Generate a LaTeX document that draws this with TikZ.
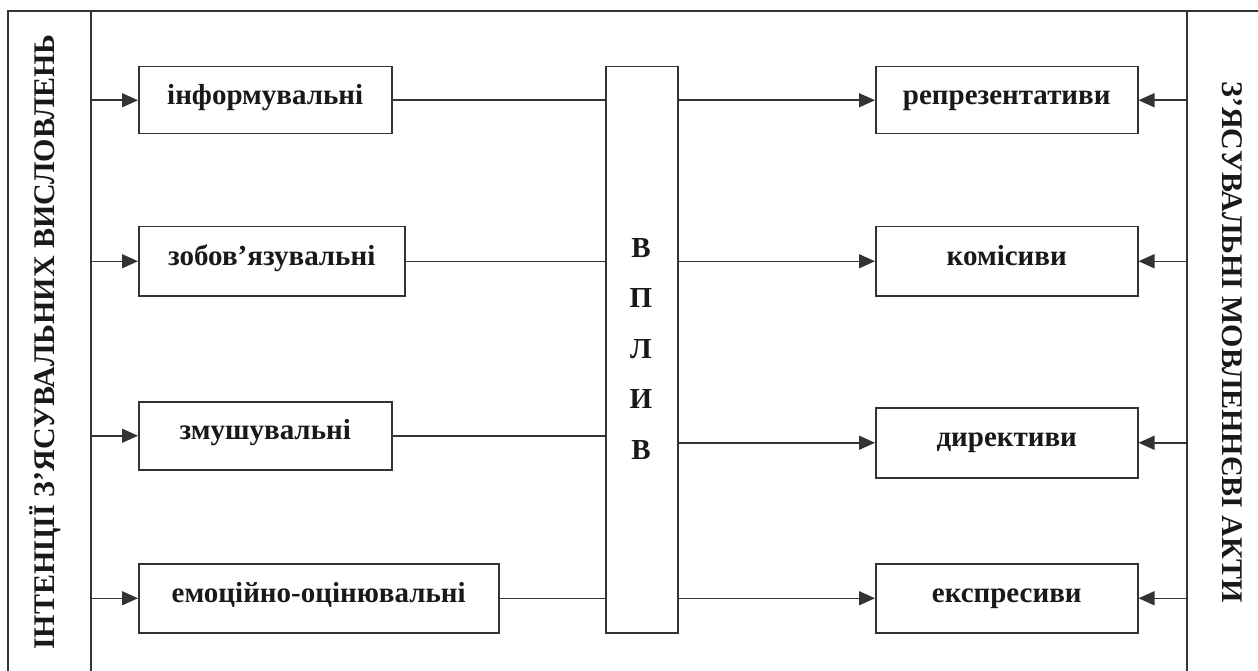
\documentclass[tikz,border=0pt]{standalone}
\usepackage{fontspec}
\setmainfont{Liberation Serif}
\usetikzlibrary{arrows.meta}
\begin{document}
\begin{tikzpicture}[x=1pt,y=-1pt,
  line/.style={draw=black!80, line width=1.5pt},
  tip/.style={-{Triangle[length=16pt,width=14pt]}},
  arr/.style={line, tip},
  box/.style={line, fill=white, anchor=north west, inner sep=0pt,
    text height=14pt, text depth=6pt,
    font=\fontsize{29}{32}\selectfont\bfseries, text=black!90},
  side/.style={font=\bfseries, text=black!90, inner sep=0pt}
]
\useasboundingbox (0,0) rectangle (1258,671);

% outer frame and the two side columns
\draw[line] (8,671) -- (8,11) -- (1258,11);
\draw[line] (91,11) -- (91,671);
\draw[line] (1187,11) -- (1187,671);
\coordinate (lt) at (91,11);
\coordinate (rt) at (1187,11);

\node[side, font=\fontsize{30}{34}\selectfont\bfseries, rotate=90] (intent) at (45,342) {ІНТЕНЦІЇ З’ЯСУВАЛЬНИХ ВИСЛОВЛЕНЬ};
\node[side, font=\fontsize{30}{34}\selectfont\bfseries, rotate=-90] (acts) at (1232,342) {З’ЯСУВАЛЬНІ МОВЛЕННЄВІ АКТИ};

% intention boxes
\node[box, minimum width=253pt, minimum height=67pt] (l1) at (138,66) {інформувальні};
\node[box, minimum width=266pt, minimum height=69pt] (l2) at (138,226) {зобов’язувальні};
\node[box, minimum width=253pt, minimum height=68pt] (l3) at (138,401) {змушувальні};
\node[box, minimum width=360pt, minimum height=69pt] (l4) at (138,563) {емоційно-оцінювальні};

% central influence column
\node[box, text height=, text depth=, minimum width=72pt, minimum height=566pt] (c) at (605,66) {};
\node[font=\fontsize{29}{50.5}\selectfont\bfseries, text=black!90, align=center, inner sep=0pt]
  (cl) at (641,349) {В\\П\\Л\\И\\В};

% speech act boxes
\node[box, minimum width=262pt, minimum height=67pt] (r1) at (875,66) {репрезентативи};
\node[box, minimum width=262pt, minimum height=69pt] (r2) at (875,226) {комісиви};
\node[box, minimum width=262pt, minimum height=70pt] (r3) at (875,407) {директиви};
\node[box, minimum width=262pt, minimum height=69pt] (r4) at (875,563) {експресиви};

% connectors: left column -> intention boxes -> central column
\foreach \n in {l1,l2,l3,l4}{
  \draw[arr] (\n.west -| lt) -- (\n.west);
  \draw[line] (\n.east) -- (\n.east -| c.west);
}
% central column -> speech act boxes <- right column
\foreach \n in {r1,r2,r3,r4}{
  \draw[arr] (\n.west -| c.east) -- (\n.west);
  \draw[arr] (\n.east -| rt) -- (\n.east);
}
\end{tikzpicture}
\end{document}
